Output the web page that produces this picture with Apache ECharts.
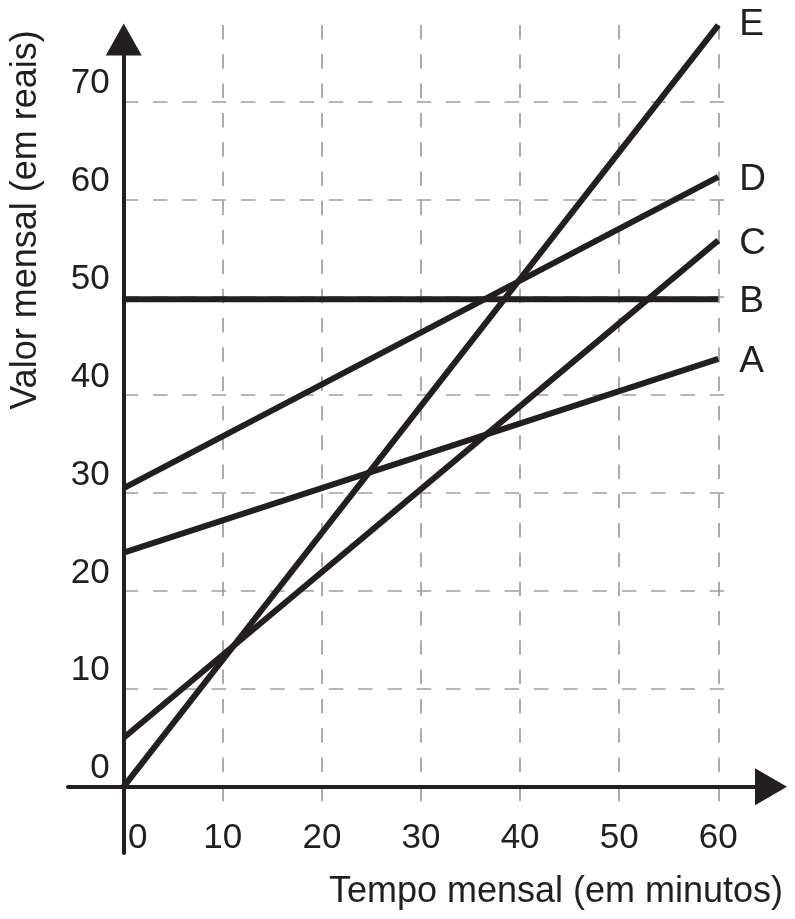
<!DOCTYPE html>
<html>
<head>
<meta charset="utf-8">
<script src="https://cdn.jsdelivr.net/npm/echarts@6/dist/echarts.min.js"></script>
<style>
  html, body { margin: 0; padding: 0; background: #fff; }
  #chart { width: 795px; height: 919px; }
</style>
</head>
<body>
<div id="chart"></div>
<script>
// valores
const minutos = [0, 60];
const planoA = [23.9, 43.7];
const planoB = [49.8, 49.8];
const planoC = [5, 55.8];
const planoD = [30.5, 62.3];
const planoE = [0, 77.8];
const nomes = ['A', 'B', 'C', 'D', 'E'];
const xTicks = [0, 10, 20, 30, 40, 50, 60];
const yTicks = [0, 10, 20, 30, 40, 50, 60, 70];

const INK = '#231f20';
const GRID = '#9e9e9e';
const FONT = '"Liberation Sans", Arial, Helvetica, sans-serif';
const W = 795, H = 919;

// escala da figura: pixel da origem e pixels por unidade
const X0 = 123.7, XS = 9.91;
const Y0 = 786.7, YS = 9.79;
const toX = px => (px - X0) / XS;
const toY = py => (Y0 - py) / YS;

const chart = echarts.init(document.getElementById('chart'), null, { renderer: 'canvas' });

const planos = [planoA, planoB, planoC, planoD, planoE];

const option = {
  animation: false,
  backgroundColor: '#fff',
  grid: [
    // grade tracejada + linhas
    { left: X0, right: W - 728, top: 25, bottom: H - 807, outerBoundsMode: 'none', containLabel: false },
    // eixos com setas
    { left: 68, right: W - 771, top: 39.5, bottom: H - 853, outerBoundsMode: 'none', containLabel: false }
  ],
  xAxis: [
    {
      type: 'value', gridIndex: 0, min: 0, max: toX(728),
      axisLine: { show: false, onZero: true },
      axisTick: { show: false, customValues: xTicks },
      axisLabel: {
        customValues: xTicks,
        margin: 14,
        fontSize: 35,
        fontFamily: FONT,
        color: INK,
        formatter: v => v === 0 ? '{z|0}' : String(v),
        rich: { z: { padding: [0, 0, 0, 28], fontSize: 35, fontFamily: FONT, color: INK } }
      },
      splitLine: { show: true, lineStyle: { color: GRID, width: 1.7, type: [14.5, 14.8] } }
    },
    {
      type: 'value', gridIndex: 1, min: toX(68), max: toX(771),
      axisLine: {
        show: true, onZero: true,
        symbol: ['none', 'triangle'], symbolSize: [37, 32],
        lineStyle: { color: INK, width: 4 }
      },
      axisTick: { show: false },
      axisLabel: { show: false },
      splitLine: { show: false }
    }
  ],
  yAxis: [
    {
      type: 'value', gridIndex: 0, min: toY(807), max: toY(25),
      axisLine: { show: false, onZero: true },
      axisTick: { show: false, customValues: yTicks },
      axisLabel: {
        customValues: yTicks,
        margin: 14,
        fontSize: 35,
        fontFamily: FONT,
        color: INK,
        formatter: v => '{v|' + v + '}',
        rich: { v: { padding: [0, 0, 36, 0], fontSize: 35, fontFamily: FONT, color: INK } }
      },
      splitLine: { show: true, lineStyle: { color: GRID, width: 1.7, type: [14.5, 14.8] } }
    },
    {
      type: 'value', gridIndex: 1, min: toY(853), max: toY(39.5),
      axisLine: {
        show: true, onZero: true,
        symbol: ['none', 'triangle'], symbolSize: [36, 32],
        lineStyle: { color: INK, width: 4 }
      },
      axisTick: { show: false },
      axisLabel: { show: false },
      splitLine: { show: false }
    }
  ],
  series: planos.map((p, i) => ({
    name: nomes[i],
    type: 'line',
    xAxisIndex: 0,
    yAxisIndex: 0,
    data: minutos.map((m, k) => [m, p[k]]),
    symbol: 'none',
    clip: false,
    silent: true,
    z: 5,
    lineStyle: { color: INK, width: 6, cap: 'butt' },
    emphasis: { disabled: true },
    endLabel: {
      show: true,
      formatter: '{a}',
      color: INK,
      fontSize: 37,
      fontFamily: FONT,
      distance: 21,
      offset: nomes[i] === 'E' ? [0, 0] : [0, 3]
    }
  })),
  graphic: [
    {
      type: 'text', x: 556, y: 892,
      style: { text: 'Tempo mensal (em minutos)', fill: INK, font: '36px ' + FONT, align: 'center', verticalAlign: 'middle' }
    },
    {
      type: 'text', x: 26, y: 220, rotation: Math.PI / 2,
      style: { text: 'Valor mensal (em reais)', fill: INK, font: '36px ' + FONT, align: 'center', verticalAlign: 'middle' }
    }
  ]
};

chart.setOption(option);
</script>
</body>
</html>
